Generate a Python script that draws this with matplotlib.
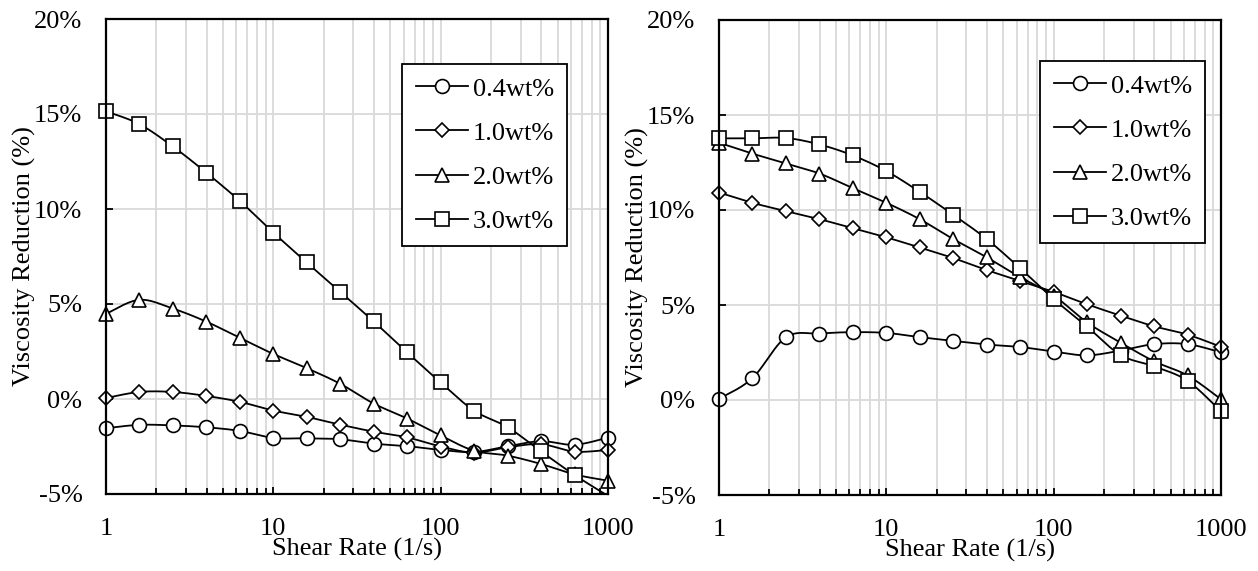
import numpy as np
import matplotlib
matplotlib.use('Agg')
import matplotlib.pyplot as plt
from matplotlib.ticker import FixedLocator, LogLocator, NullFormatter

plt.rcParams['font.family'] = ['Liberation Serif', 'DejaVu Serif']

# Shear rates (1/s), 5 points per decade
shear_rate = [1, 1.58, 2.51, 3.98, 6.31, 10, 15.8, 25.1, 39.8, 63.1,
              100, 158, 251, 398, 631, 1000]
labels = ['0.4wt%', '1.0wt%', '2.0wt%', '3.0wt%']

# left panel
left_04 = [-1.54, -1.36, -1.39, -1.49, -1.68, -2.05, -2.07, -2.12, -2.35, -2.48,
           -2.68, -2.79, -2.49, -2.22, -2.41, -2.03]
left_10 = [0.05, 0.37, 0.37, 0.16, -0.15, -0.61, -0.94, -1.35, -1.72, -2.02,
           -2.50, -2.82, -2.54, -2.38, -2.77, -2.68]
left_20 = [4.48, 5.22, 4.76, 4.07, 3.22, 2.37, 1.63, 0.80, -0.24, -1.03,
           -1.92, -2.72, -2.98, -3.42, -3.97, -4.30]
left_30 = [15.14, 14.47, 13.29, 11.91, 10.42, 8.76, 7.19, 5.64, 4.08, 2.45,
           0.87, -0.61, -1.48, -2.76, -4.00, -5.10]

# right panel
right_04 = [0.06, 1.14, 3.30, 3.50, 3.57, 3.53, 3.31, 3.11, 2.92, 2.79,
            2.55, 2.35, 2.60, 2.94, 2.94, 2.51]
right_10 = [10.92, 10.38, 9.94, 9.52, 9.04, 8.56, 8.03, 7.47, 6.84, 6.26,
            5.69, 5.04, 4.44, 3.88, 3.44, 2.80]
right_20 = [13.54, 12.97, 12.45, 11.92, 11.15, 10.38, 9.52, 8.47, 7.51, 6.46,
            5.50, 4.09, 3.02, 2.04, 1.29, 0.04]
right_30 = [13.77, 13.77, 13.79, 13.45, 12.87, 12.05, 10.96, 9.75, 8.47, 6.93,
            5.31, 3.87, 2.37, 1.77, 1.01, -0.60]

markers = ['o', 'D', '^', 's']
msizes = [10, 7.5, 10, 10]
FS = 19


# сглаживание как в Excel (кривые Безье по точкам, в log-координатах)
def smooth(x, y, n=24):
    u = np.log10(np.asarray(x, float))
    v = np.asarray(y, float)
    # нормируем на диапазоны осей, чтобы форма была как на экране
    su, sv = 3.0, 25.0
    P = np.column_stack([u / su, v / sv])
    P = np.vstack([P[0], P, P[-1]])
    out = []
    for i in range(1, len(P) - 2):
        p0, p1, p2, p3 = P[i - 1], P[i], P[i + 1], P[i + 2]
        c1 = p1 + (p2 - p0) / 6.0
        c2 = p2 - (p3 - p1) / 6.0
        t = np.linspace(0, 1, n, endpoint=(i == len(P) - 3))[:, None]
        b = (1 - t) ** 3 * p1 + 3 * (1 - t) ** 2 * t * c1 + 3 * (1 - t) * t ** 2 * c2 + t ** 3 * p2
        out.append(b)
    out = np.vstack(out)
    return 10 ** (out[:, 0] * su), out[:, 1] * sv


def draw_panel(ax, series):
    for k, (vals, lab) in enumerate(zip(series, labels)):
        sx, sy = smooth(shear_rate, vals)
        ax.plot(sx, sy, color='black', lw=1.3, zorder=3 + 2 * k)
        # маркеры вне диапазона оси не рисуем, остальные не обрезаем
        mv = np.ma.masked_outside(np.asarray(vals, float), -5, 20)
        ax.plot(shear_rate, mv, linestyle='none', marker=markers[k], ms=msizes[k],
                mfc='white', mec='black', mew=1.2, zorder=4 + 2 * k, clip_on=False)
        # for legend
        ax.plot([], [], color='black', lw=1.3, marker=markers[k], ms=msizes[k],
                mfc='white', mec='black', mew=1.2, label=lab)

    ax.set_xscale('log')
    ax.set_xlim(1, 1000)
    ax.set_ylim(-5, 20)
    ax.xaxis.set_major_locator(FixedLocator([1, 10, 100, 1000]))
    ax.set_xticklabels(['1', '10', '100', '1000'])
    ax.xaxis.set_minor_locator(LogLocator(base=10, subs=np.arange(2, 10)))
    ax.xaxis.set_minor_formatter(NullFormatter())
    ax.set_yticks([-5, 0, 5, 10, 15, 20])
    ax.set_yticklabels([f'{t}%' for t in [-5, 0, 5, 10, 15, 20]])

    ax.grid(True, which='both', axis='x', color='#d9d9d9', lw=1.3, zorder=0)
    ax.grid(True, which='major', axis='y', color='#d9d9d9', lw=1.3, zorder=0)
    ax.set_axisbelow(True)

    ax.tick_params(axis='both', which='major', direction='in', length=5, width=1.3,
                   labelsize=FS, color='black')
    ax.tick_params(axis='y', which='major', pad=17)
    ax.tick_params(axis='x', which='major', pad=17)
    ax.tick_params(axis='x', which='minor', direction='in', length=4, width=1.3)
    for sp in ax.spines.values():
        sp.set_linewidth(1.6)
        sp.set_color('black')
        sp.set_zorder(30)

    ax.set_xlabel('Shear Rate (1/s)', fontsize=FS, labelpad=-1)
    ax.set_ylabel('Viscosity Reduction (%)', fontsize=FS, labelpad=-1)


fig = plt.figure(figsize=(12.58, 5.71), dpi=100)
ax1 = fig.add_axes([106 / 1258, 1 - 494 / 571, 502 / 1258, 475 / 571])
ax2 = fig.add_axes([719 / 1258, 1 - 495 / 571, 502 / 1258, 475 / 571])

draw_panel(ax1, [left_04, left_10, left_20, left_30])
draw_panel(ax2, [right_04, right_10, right_20, right_30])

for ax, anchor in [(ax1, (567 / 1258, 1 - 64 / 571)), (ax2, (1205 / 1258, 1 - 61 / 571))]:
    leg = ax.legend(loc='upper right', bbox_to_anchor=anchor, bbox_transform=fig.transFigure,
                    fontsize=FS, frameon=True, fancybox=False, framealpha=1,
                    edgecolor='black', borderaxespad=0, borderpad=0.5,
                    labelspacing=0.78, handlelength=1.97, handletextpad=0.19)
    leg.get_frame().set_linewidth(1.3)
    leg.set_zorder(20)

fig.savefig('out.png', dpi=100)
